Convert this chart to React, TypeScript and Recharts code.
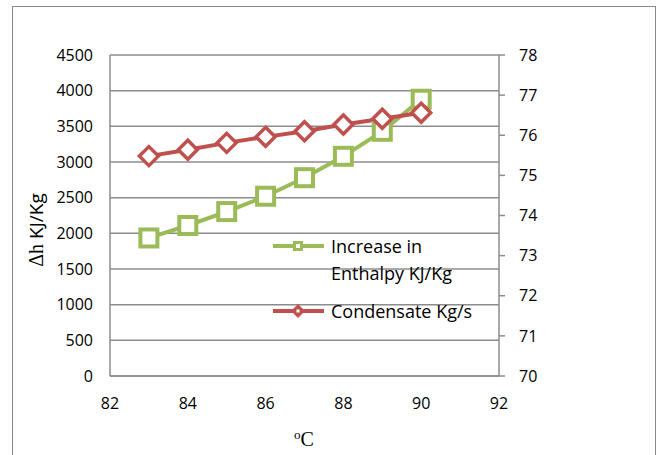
import { LineChart, Line, XAxis, YAxis, CartesianGrid } from 'recharts'

const temps = [83, 84, 85, 86, 87, 88, 89, 90]
const enthalpy = [1935, 2110, 2305, 2520, 2780, 3080, 3430, 3880]
const condensate = [75.48, 75.64, 75.81, 75.96, 76.1, 76.27, 76.41, 76.56]

const xTicks = [82, 84, 86, 88, 90, 92]
const leftTicks = [0, 500, 1000, 1500, 2000, 2500, 3000, 3500, 4000, 4500]
const rightTicks = [70, 71, 72, 73, 74, 75, 76, 77, 78]

const legendLines = [['Increase in', 'Enthalpy KJ/Kg'], ['Condensate Kg/s']]

const data = temps.map((t, i) => ({ t, enthalpy: enthalpy[i], condensate: condensate[i] }))

const GREEN = '#9bbb59'
const RED = '#c0504d'
const GRID = '#8c8c8c'
const FONT = '"Open Sans", sans-serif'
const SERIF = '"Liberation Serif", serif'

const SquareDot = (props: any) => {
  const { cx, cy } = props
  if (cx == null || cy == null) return null
  const s = 17
  return <rect x={cx - s / 2} y={cy - s / 2} width={s} height={s} fill="#fff" stroke={GREEN} strokeWidth={4} />
}

const DiamondDot = (props: any) => {
  const { cx, cy } = props
  if (cx == null || cy == null) return null
  const r = 9.5
  return (
    <polygon
      points={`${cx},${cy - r} ${cx + r},${cy} ${cx},${cy + r} ${cx - r},${cy}`}
      fill="#fff"
      stroke={RED}
      strokeWidth={3.5}
    />
  )
}

const tickStyle = { fontSize: 16, fill: '#000', fontFamily: FONT }

export default function App() {
  return (
    <div style={{ position: 'absolute', left: 0, top: 0, width: 660, height: 455, background: '#fff', overflow: 'hidden' }}>
      <div style={{ position: 'absolute', left: 0, top: 0 }}>
        <LineChart width={660} height={455} data={data} margin={{ top: 55, right: 0, left: 0, bottom: 0 }}>
          <CartesianGrid yAxisId="left" vertical={false} stroke={GRID} strokeWidth={1.5} />
          <XAxis
            dataKey="t"
            type="number"
            domain={[82, 92]}
            ticks={xTicks}
            height={79}
            tickLine={false}
            tickSize={6}
            tickMargin={16}
            axisLine={{ stroke: GRID, strokeWidth: 1.5 }}
            tick={tickStyle}
          />
          <YAxis
            yAxisId="left"
            domain={[0, 4500]}
            ticks={leftTicks}
            width={110}
            tickLine={false}
            tickSize={6}
            tickMargin={11}
            axisLine={{ stroke: GRID, strokeWidth: 1.5 }}
            tick={tickStyle}
          />
          <YAxis
            yAxisId="right"
            orientation="right"
            domain={[70, 78]}
            ticks={rightTicks}
            width={161}
            tickSize={6}
            tickMargin={14}
            tickLine={{ stroke: GRID, strokeWidth: 1.5 }}
            axisLine={{ stroke: GRID, strokeWidth: 1.5 }}
            tick={{ ...tickStyle, textAnchor: 'start' }}
          />
          <Line
            yAxisId="left"
            dataKey="enthalpy"
            name="Increase in Enthalpy KJ/Kg"
            stroke={GREEN}
            strokeWidth={4}
            dot={<SquareDot />}
            activeDot={false}
            isAnimationActive={false}
          />
          <Line
            yAxisId="right"
            dataKey="condensate"
            name="Condensate Kg/s"
            stroke={RED}
            strokeWidth={4}
            dot={<DiamondDot />}
            activeDot={false}
            isAnimationActive={false}
          />
        </LineChart>
      </div>

      {/* frame, axis titles, legend */}
      <svg width={660} height={455} style={{ position: 'absolute', left: 0, top: 0, pointerEvents: 'none' }}>
        <rect x={12.5} y={6.5} width={643} height={470} fill="none" stroke="#8a8a8a" strokeWidth={1} />

        <text transform="translate(43,230) rotate(-90)" textAnchor="middle" fill="#000">
          <tspan fontFamily={SERIF} fontSize={20}>Δh </tspan>
          <tspan fontFamily={FONT} fontSize={19}>KJ/Kg</tspan>
        </text>
        <text x={304} y={446} textAnchor="middle" fontFamily={SERIF} fontSize={20} fill="#000">
          <tspan fontSize={13} dy={-7}>o</tspan>
          <tspan dy={7}>C</tspan>
        </text>

        <g fontFamily={FONT} fontSize={18} fill="#000">
          <line x1={273} y1={246} x2={324} y2={246} stroke={GREEN} strokeWidth={4} />
          <rect x={293} y={241} width={10} height={10} fill={GREEN} />
          <rect x={296} y={244} width={4} height={4} fill="#fff" />
          <text x={331} y={252.5}>{legendLines[0][0]}</text>
          <text x={331} y={279.5}>{legendLines[0][1]}</text>

          <line x1={273} y1={311} x2={324} y2={311} stroke={RED} strokeWidth={4} />
          <polygon points="298,304 305,311 298,318 291,311" fill={RED} />
          <rect x={296.5} y={309.5} width={3} height={3} fill="#fff" />
          <text x={331} y={317.5}>{legendLines[1][0]}</text>
        </g>
      </svg>
    </div>
  )
}
